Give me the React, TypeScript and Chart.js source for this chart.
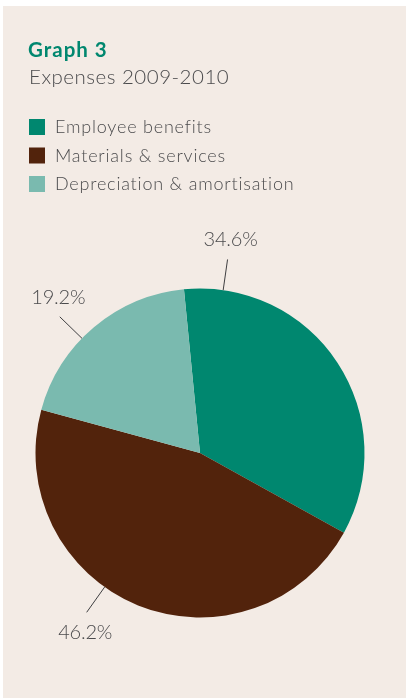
import React, { useEffect, useRef } from "react";
import { Chart, registerables } from "chart.js";

Chart.register(...registerables);

const chartTitle = "Graph 3";
const chartSubtitle = "Expenses 2009-2010";
const categories = ["Employee benefits", "Materials & services", "Depreciation & amortisation"];
const values = [34.6, 46.2, 19.2];
const valueLabels = ["34.6%", "46.2%", "19.2%"];

const COLORS = ["#00876f", "#52230c", "#7abaaf"];
const BG = "#f3ebe5";
const TEXT = "#4b4b4d";
const FONT = "Lato, 'Open Sans', sans-serif";

// where along each slice (0..1) the leader line sits
const LABEL_FRACTIONS = [0.11, 0.58, 0.418];

const headerPlugin = {
  id: "header",
  beforeDraw(chart: any) {
    const ctx = chart.ctx;
    ctx.save();
    ctx.fillStyle = BG;
    ctx.fillRect(0, 0, chart.width, chart.height);
    ctx.textAlign = "left";
    ctx.textBaseline = "alphabetic";
    ctx.fillStyle = COLORS[0];
    ctx.font = `bold 20.5px ${FONT}`;
    ctx.letterSpacing = "1px";
    ctx.fillText(chartTitle, 25, 50.7);
    ctx.fillStyle = TEXT;
    ctx.font = `300 20.5px ${FONT}`;
    ctx.letterSpacing = "0.5px";
    ctx.fillText(chartSubtitle, 26, 78);
    const ds = chart.data.datasets[0];
    const labels = chart.data.labels as string[];
    ctx.font = `300 18px ${FONT}`;
    ctx.letterSpacing = "0.8px";
    labels.forEach((lab, i) => {
      const top = 113 + i * 28.5;
      ctx.fillStyle = ds.backgroundColor[i];
      ctx.fillRect(26, top, 16, 16);
      ctx.fillStyle = TEXT;
      ctx.fillText(lab, 52, top + 14);
    });
    ctx.restore();
  },
};

const leaderPlugin = {
  id: "leaders",
  afterDatasetsDraw(chart: any) {
    const ctx = chart.ctx;
    const meta = chart.getDatasetMeta(0);
    ctx.save();
    ctx.strokeStyle = "#3f3f41";
    ctx.lineWidth = 1;
    ctx.fillStyle = TEXT;
    ctx.font = `300 20px ${FONT}`;
    ctx.letterSpacing = "-0.2px";
    ctx.textAlign = "center";
    ctx.textBaseline = "alphabetic";
    meta.data.forEach((arc: any, i: number) => {
      const { x, y, startAngle, endAngle, outerRadius } = arc.getProps(
        ["x", "y", "startAngle", "endAngle", "outerRadius"],
        true
      );
      const a = startAngle + LABEL_FRACTIONS[i] * (endAngle - startAngle);
      const c = Math.cos(a);
      const s = Math.sin(a);
      const r0 = outerRadius;
      const r1 = outerRadius + 31;
      const x1 = x + c * r1;
      const y1 = y + s * r1;
      ctx.beginPath();
      ctx.moveTo(x + c * r0, y + s * r0);
      ctx.lineTo(x1, y1);
      ctx.stroke();
      const ty = s >= 0 ? y1 + 27 : y1 - 13;
      ctx.fillText(valueLabels[i], x1 + (c >= 0 ? 3 : -1.5), ty);
    });
    ctx.restore();
  },
};

export default function App() {
  const ref = useRef<HTMLCanvasElement | null>(null);
  useEffect(() => {
    if (!ref.current) return;
    const chart = new Chart(ref.current, {
      type: "pie",
      data: {
        labels: categories,
        datasets: [
          {
            data: values,
            backgroundColor: COLORS,
            borderWidth: 0,
          },
        ],
      },
      options: {
        responsive: false,
        animation: false,
        rotation: -5.6,
        layout: { padding: { left: 32.5, right: 41.5, top: 282.5, bottom: 80.5 } },
        plugins: {
          legend: { display: false },
          tooltip: { enabled: false },
          title: { display: false },
        },
      },
      plugins: [headerPlugin, leaderPlugin],
    });
    return () => chart.destroy();
  }, []);
  return (
    <div
      style={{
        position: "absolute",
        left: 3,
        top: 6,
        width: 403,
        height: 692,
        background: BG,
      }}
    >
      <canvas ref={ref} width={403} height={692} style={{ width: 403, height: 692, display: "block" }} />
    </div>
  );
}
